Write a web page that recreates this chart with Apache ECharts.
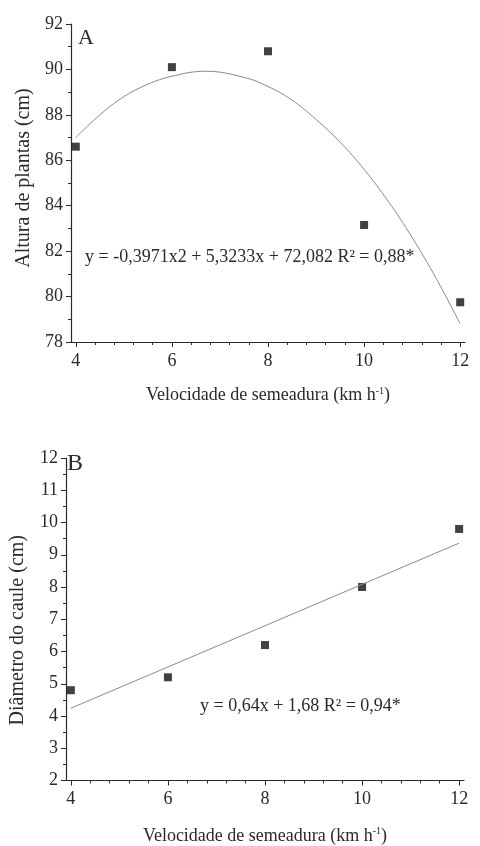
<!DOCTYPE html>
<html>
<head>
<meta charset="utf-8">
<script src="https://cdn.jsdelivr.net/npm/echarts@6/dist/echarts.min.js"></script>
<style>
  html, body { margin: 0; padding: 0; background: #fff; }
  #main { width: 480px; height: 846px; }
</style>
</head>
<body>
<div id="main"></div>
<script>
// velocidade de semeadura (km h-1)
var speeds = [4, 6, 8, 10, 12];
// A: altura de plantas (cm)
var alturaObs = [86.6, 90.1, 90.8, 83.15, 79.75];
// curva ajustada
var alturaFitX = [4, 4.5, 5, 5.5, 6, 6.7, 7.5, 8, 8.5, 9, 9.5, 10, 10.5, 11, 11.5, 12];
var alturaFitY = [87.0, 88.0, 88.8, 89.35, 89.7, 89.92, 89.65, 89.25, 88.65, 87.8, 86.8, 85.6, 84.2, 82.6, 80.8, 78.8];
// B: diametro do caule (cm)
var diametroObs = [4.8, 5.2, 6.2, 8.0, 9.8];
var diametroFitX = [4, 12];
var diametroFitY = [4.24, 9.36];

var xTicks = [4, 6, 8, 10, 12];
var xMinorTicks = [];
for (var t = 4; t < 12; t += 0.4) {
    if (Math.abs(t - Math.round(t / 2) * 2) > 0.01) xMinorTicks.push(+t.toFixed(1));
}

var fontFam = '"Liberation Serif", "DejaVu Serif", serif';
var ink = '#2a2a2a';

function pairs(xs, ys) {
    return xs.map(function (x, i) { return [x, ys[i]]; });
}

var axisLine = { show: true, lineStyle: { color: ink, width: 1.2 } };
var nameRich = {
    sup: { fontSize: 10, verticalAlign: 'top', fontFamily: fontFam, color: ink, padding: [0, 0, 9, 0] }
};

function xMain(grid, name, gap) {
    return {
        type: 'value', gridIndex: grid, min: 3.9, max: 12.1, position: 'bottom',
        name: name, nameLocation: 'middle', nameGap: gap,
        nameTextStyle: { fontFamily: fontFam, fontSize: 18, color: ink, rich: nameRich },
        axisLine: axisLine,
        axisTick: { show: true, length: 5, customValues: xTicks, lineStyle: { color: ink } },
        axisLabel: { customValues: xTicks, fontFamily: fontFam, fontSize: 18, color: ink, margin: 10 },
        splitLine: { show: false }
    };
}
function xMinor(grid) {
    return {
        type: 'value', gridIndex: grid, min: 3.9, max: 12.1, position: 'bottom',
        axisLine: { show: false },
        axisTick: { show: true, length: 3, customValues: xMinorTicks, lineStyle: { color: ink } },
        axisLabel: { show: false },
        splitLine: { show: false }
    };
}

var chart = echarts.init(document.getElementById('main'));
var option = {
    backgroundColor: '#fff',
    animation: false,
    grid: [
        { left: 71, top: 24, width: 394, height: 318 },
        { left: 62, top: 458, width: 402, height: 325 }
    ],
    xAxis: [
        xMain(0, 'Velocidade de semeadura (km h{sup|-1})', 44),
        xMinor(0),
        xMain(1, 'Velocidade de semeadura (km h{sup|-1})', 46),
        xMinor(1)
    ],
    yAxis: [
        {
            type: 'value', gridIndex: 0, min: 78, max: 92, interval: 2,
            name: 'Altura de plantas (cm)', nameLocation: 'middle', nameGap: 36,
            nameTextStyle: { fontFamily: fontFam, fontSize: 20, color: ink, padding: [0, 0, 0, 10] },
            axisLine: axisLine,
            axisTick: { show: true, length: 5, lineStyle: { color: ink } },
            minorTick: { show: true, splitNumber: 2, length: 3, lineStyle: { color: ink } },
            axisLabel: { fontFamily: fontFam, fontSize: 18, color: ink, margin: 8 },
            splitLine: { show: false }
        },
        {
            type: 'value', gridIndex: 1, min: 2, max: 12, interval: 1,
            name: 'Diâmetro do caule (cm)', nameLocation: 'middle', nameGap: 38,
            nameTextStyle: { fontFamily: fontFam, fontSize: 20, color: ink, padding: [0, 22, 0, 0] },
            axisLine: axisLine,
            axisTick: { show: true, length: 5, lineStyle: { color: ink } },
            minorTick: { show: true, splitNumber: 2, length: 3, lineStyle: { color: ink } },
            axisLabel: { fontFamily: fontFam, fontSize: 18, color: ink, margin: 8 },
            splitLine: { show: false }
        }
    ],
    series: [
        {
            type: 'line', xAxisIndex: 0, yAxisIndex: 0, smooth: 0.4, symbol: 'none',
            lineStyle: { color: '#8a8a8a', width: 1 },
            data: pairs(alturaFitX, alturaFitY)
        },
        {
            type: 'scatter', xAxisIndex: 0, yAxisIndex: 0, symbol: 'rect', symbolSize: 8,
            itemStyle: { color: '#111' },
            data: pairs(speeds, alturaObs)
        },
        {
            type: 'line', xAxisIndex: 2, yAxisIndex: 1, symbol: 'none',
            lineStyle: { color: '#8a8a8a', width: 1 },
            data: pairs(diametroFitX, diametroFitY)
        },
        {
            type: 'scatter', xAxisIndex: 2, yAxisIndex: 1, symbol: 'rect', symbolSize: 8,
            itemStyle: { color: '#111' },
            data: pairs(speeds, diametroObs)
        }
    ],
    graphic: [
        { type: 'text', left: 78, top: 27, style: { text: 'A', fontFamily: fontFam, fontSize: 22, fill: ink } },
        { type: 'text', left: 67, top: 452, style: { text: 'B', fontFamily: fontFam, fontSize: 24, fill: ink } },
        { type: 'text', left: 85, top: 248, style: { text: 'y = -0,3971x2 + 5,3233x + 72,082 R² = 0,88*', fontFamily: fontFam, fontSize: 18, fill: ink } },
        { type: 'text', left: 200, top: 697, style: { text: 'y = 0,64x + 1,68 R² = 0,94*', fontFamily: fontFam, fontSize: 18, fill: ink } }
    ]
};
chart.setOption(option);
</script>
</body>
</html>
